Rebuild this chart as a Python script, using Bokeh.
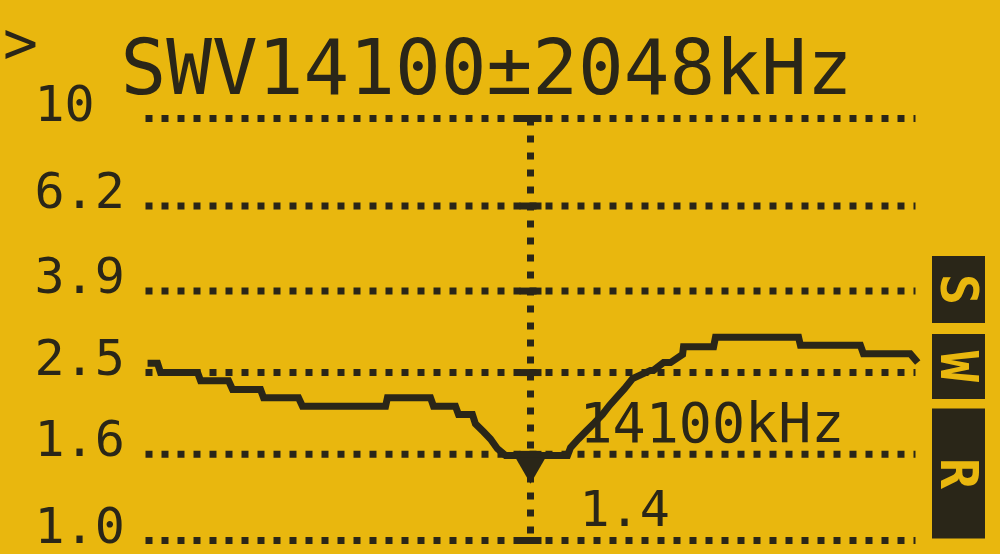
import math
from bokeh.plotting import figure
from bokeh.models import Range1d, GlobalInlineStyleSheet
from bokeh.core.properties import value
from bokeh.embed import file_html
from bokeh.resources import INLINE

# ---------------- data ----------------
center_khz = 14100
span_khz = 2048
title_text = "SWV14100\u00b12048kHz"
swr_ticks = [1.0, 1.6, 2.5, 3.9, 6.2, 10.0]
swr_tick_labels = ["1.0", "1.6", "2.5", "3.9", "6.2", "10"]

freq_khz = [12063, 12116, 12132, 12329, 12345, 12494, 12515, 12664, 12680, 12866,
            12887, 13329, 13339, 13568, 13584, 13701, 13717, 13791, 13807, 13850,
            13887, 13924, 13967, 14297, 14313, 14355, 14398, 14440, 14483, 14520,
            14557, 14600, 14643, 14738, 14754, 14808, 14845, 14909, 14914, 15074,
            15084, 15526, 15536, 15855, 15871, 16120, 16160]
swr = [2.63, 2.63, 2.50, 2.50, 2.39, 2.39, 2.28, 2.28, 2.18, 2.18,
       2.08, 2.08, 2.18, 2.18, 2.08, 2.08, 1.99, 1.99, 1.89, 1.81,
       1.74, 1.65, 1.59, 1.59, 1.66, 1.74, 1.82, 1.90, 1.99, 2.09,
       2.18, 2.29, 2.42, 2.53, 2.53, 2.64, 2.64, 2.76, 2.88, 2.88,
       3.03, 3.03, 2.90, 2.90, 2.77, 2.77, 2.64]
min_freq_khz = 14100
min_swr = 1.4
marker_text = "14100kHz"
min_text = "1.4"
softkeys = ["S", "W", "R"]

# ---------------- layout ----------------
BG = "#E9B70E"
INK = "#2a2618"
W, H = 1000, 554
f_lo, f_hi = center_khz - span_khz, center_khz + span_khz
GX0, GX1 = 145, 915          # page px of sweep edges
GY10, GY1 = 118, 540         # page px of SWR 10 and 1
kpp = (f_hi - f_lo) / (GX1 - GX0)
dpp = 1.0 / (GY1 - GY10)

def px_x(X):
    return f_lo + (X - GX0) * kpp

def px_y(Y):
    return 10 ** ((GY1 - Y) * dpp)

p = figure(width=W, height=H, output_backend="svg", toolbar_location=None,
           x_range=Range1d(px_x(0), px_x(W)), y_range=Range1d(px_y(H), px_y(0)),
           y_axis_type="log", min_border=0, outline_line_color=None,
           background_fill_color=BG, border_fill_color=BG,
           stylesheets=[GlobalInlineStyleSheet(css="body{background:%s;}" % BG)])
p.xaxis.visible = False
p.yaxis.visible = False
p.grid.visible = False

# dotted horizontal grid
p.segment(x0=[f_lo] * len(swr_ticks), x1=[f_hi] * len(swr_ticks),
          y0=swr_ticks, y1=swr_ticks, line_color=INK, line_width=7,
          line_dash="7 9", line_cap="butt")
# dotted vertical centre line
p.segment(x0=[center_khz], x1=[center_khz], y0=[swr_ticks[-1]], y1=[swr_ticks[0]],
          line_color=INK, line_width=7, line_dash="7 10", line_cap="butt")
# tick dashes on centre line
p.rect(x=[center_khz] * len(swr_ticks), y=swr_ticks, width=22, height=7,
       width_units="screen", height_units="screen", fill_color=INK, line_color=None)

# SWR curve
p.line(freq_khz, swr, line_color=INK, line_width=7, line_join="miter")
# minimum marker
p.scatter([min_freq_khz], [min_swr * 1.07], marker="inverted_triangle", size=30,
          fill_color=INK, line_color=None)

mono = value("DejaVu Sans Mono")
# y labels
p.text(x=[px_x(34)] * len(swr_ticks), y=swr_ticks, text=swr_tick_labels, y_offset=-16,
       text_font=mono, text_font_size="50px", text_color=INK,
       text_align="left", text_baseline="middle")
# title
p.text(x=[px_x(120)], y=[px_y(67)], text=[title_text], text_font=mono,
       text_font_size="76px", text_color=INK, text_align="left",
       text_baseline="middle")
# cursor
p.text(x=[px_x(20)], y=[px_y(42)], text=[">"], text_font=mono,
       text_font_size="58px", text_color=INK, text_align="center",
       text_baseline="middle")
# marker readouts
p.text(x=[px_x(579)], y=[px_y(422)], text=[marker_text], text_font=mono,
       text_font_size="55px", text_color=INK, text_align="left",
       text_baseline="middle")
p.text(x=[px_x(579)], y=[px_y(507)], text=[min_text], text_font=mono,
       text_font_size="50px", text_color=INK, text_align="left",
       text_baseline="middle")

# soft-key boxes
box_y = [289, 366, 473]
box_h = [67, 65, 130]
bx = px_x(958)
p.rect(x=[bx] * 3, y=[px_y(v) for v in box_y], width=53, height=box_h,
       width_units="screen", height_units="screen", fill_color=INK, line_color=None)
p.text(x=[bx] * 3, y=[px_y(v) for v in box_y], text=softkeys, angle=-math.pi / 2,
       text_font=mono, text_font_size="52px", text_color=BG, text_align="center",
       text_baseline="middle", text_font_style="bold")

open("out.html", "w").write(file_html(p, INLINE))
